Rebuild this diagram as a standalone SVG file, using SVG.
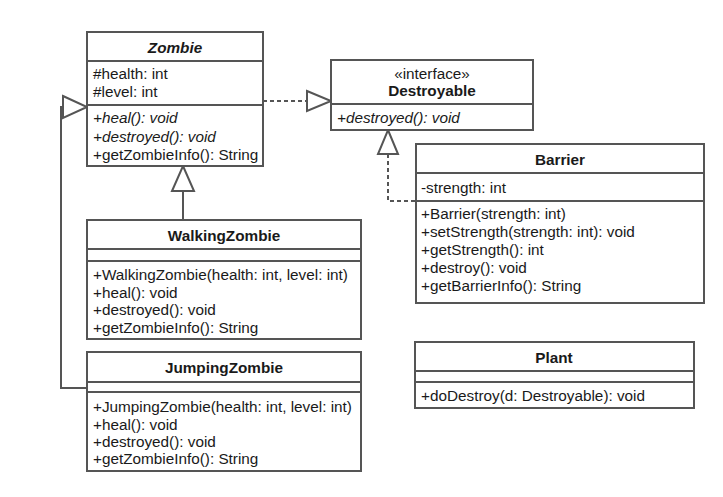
<svg xmlns="http://www.w3.org/2000/svg" width="723" height="497" viewBox="0 0 723 497">
<style>
.box{fill:#fff;stroke:#555;stroke-width:2}
.ln{stroke:#555;stroke-width:2;fill:none}
.dash{stroke:#555;stroke-width:2;fill:none;stroke-dasharray:4 3}
.tri{fill:#fff;stroke:#555;stroke-width:2}
text{font-family:"Liberation Sans",Arial,sans-serif;font-size:15.3px;fill:#1a1a1a}
.t{font-weight:bold;text-anchor:middle}
.c{text-anchor:middle}
.i{font-style:italic}
</style>
<rect width="723" height="497" fill="#fff"/>
<g id="connectors">
<path class="dash" d="M263 101 H307"/>
<polygon class="tri" points="307,91 331,101 307,111"/>
<path class="dash" d="M388 154 V201 H416"/>
<polygon class="tri" points="388,130 398,154 378,154"/>
<path class="ln" d="M183 220 V191"/>
<polygon class="tri" points="183,166 194,191 172,191"/>
<path class="ln" d="M87 388 H61 V107 H63"/>
<polygon class="tri" points="63,96 87,107 63,118"/>
</g>
<g id="Zombie">
<rect class="box" x="87" y="32" width="176" height="134"/>
<line class="ln" x1="87" y1="61" x2="263" y2="61"/>
<line class="ln" x1="87" y1="105" x2="263" y2="105"/>
<text class="t i" x="175" y="52.5">Zombie</text>
<text x="93" y="78.5">#health: int</text>
<text x="93" y="96.5">#level: int</text>
<text class="i" x="93" y="123">+heal(): void</text>
<text class="i" x="93" y="142">+destroyed(): void</text>
<text x="93" y="160">+getZombieInfo(): String</text>
</g>
<g id="Destroyable">
<rect class="box" x="331" y="60" width="202" height="70"/>
<line class="ln" x1="331" y1="104" x2="533" y2="104"/>
<text class="c" x="432" y="78.5">«interface»</text>
<text class="t" x="432" y="95.5">Destroyable</text>
<text class="i" x="337" y="122.5">+destroyed(): void</text>
</g>
<g id="Barrier">
<rect class="box" x="416" y="144" width="288" height="159"/>
<line class="ln" x1="416" y1="173" x2="704" y2="173"/>
<line class="ln" x1="416" y1="201" x2="704" y2="201"/>
<text class="t" x="560" y="164.5">Barrier</text>
<text x="421" y="192.5">-strength: int</text>
<text x="421" y="218.5">+Barrier(strength: int)</text>
<text x="421" y="236.5">+setStrength(strength: int): void</text>
<text x="421" y="254.5">+getStrength(): int</text>
<text x="421" y="272.5">+destroy(): void</text>
<text x="421" y="290.5">+getBarrierInfo(): String</text>
</g>
<g id="WalkingZombie">
<rect class="box" x="87" y="220" width="274" height="119"/>
<line class="ln" x1="87" y1="249" x2="361" y2="249"/>
<line class="ln" x1="87" y1="261" x2="361" y2="261"/>
<text class="t" x="224" y="240.5">WalkingZombie</text>
<text x="93" y="279.5">+WalkingZombie(health: int, level: int)</text>
<text x="93" y="297.5">+heal(): void</text>
<text x="93" y="314.5">+destroyed(): void</text>
<text x="93" y="332.5">+getZombieInfo(): String</text>
</g>
<g id="JumpingZombie">
<rect class="box" x="87" y="352" width="274" height="119"/>
<line class="ln" x1="87" y1="382" x2="361" y2="382"/>
<line class="ln" x1="87" y1="392" x2="361" y2="392"/>
<text class="t" x="224" y="372.5">JumpingZombie</text>
<text x="93" y="411.5">+JumpingZombie(health: int, level: int)</text>
<text x="93" y="429.5">+heal(): void</text>
<text x="93" y="446.5">+destroyed(): void</text>
<text x="93" y="463.5">+getZombieInfo(): String</text>
</g>
<g id="Plant">
<rect class="box" x="415" y="342" width="279" height="66"/>
<line class="ln" x1="415" y1="371" x2="694" y2="371"/>
<line class="ln" x1="415" y1="382" x2="694" y2="382"/>
<text class="t" x="554" y="362.5">Plant</text>
<text x="421" y="400.5">+doDestroy(d: Destroyable): void</text>
</g>
</svg>
